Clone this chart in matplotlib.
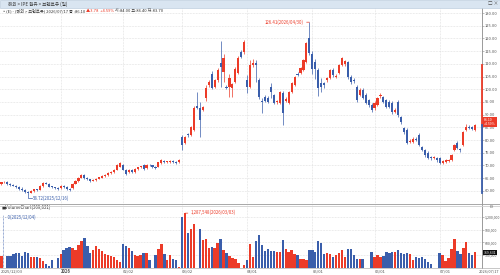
import matplotlib
matplotlib.use('Agg')
import matplotlib.pyplot as plt
import matplotlib.transforms as mtransforms
from matplotlib.patches import Rectangle
from matplotlib.lines import Line2D
import numpy as np
import pandas as pd

plt.rcParams['font.family'] = ['Noto Sans CJK KR', 'DejaVu Sans']

# ---------------- data ----------------
start_date = '2025-12-03'
end_date = '2026-07-17'
holidays = ['2025-12-25', '2026-01-01']

opens = [62.8, 63.3, 63.6, 62.6, 62.3, 61.9, 61.4, 60.9, 60.3, 59.6,
         59.3, 60.0, 60.6, 60.4, 61.8, 63.0, 62.8, 61.7, 61.3, 61.0,
         61.0, 62.0, 61.5, 60.8, 61.0, 62.8, 63.8, 65.2, 66.2, 65.0,
         64.5, 64.0, 64.2, 64.8, 65.2, 65.8, 66.3, 66.9, 67.5, 68.3,
         69.5, 70.2, 68.3, 67.5, 68.2, 67.4, 68.5, 69.2, 70.2, 69.0,
         70.2, 70.0, 69.5, 69.5, 71.0, 71.8, 71.3, 71.4, 71.7, 71.4,
         71.2, 81.2, 79.0, 82.2, 82.0, 84.0, 93.5, 92.6, 92.0, 96.5,
         101.6, 106.0, 100.9, 103.6, 110.3, 106.8, 101.0, 100.9, 100.5, 102.8,
         106.4, 114.6, 114.6, 103.6, 100.9, 109.6, 110.3, 103.5, 95.3, 97.0,
         96.5, 100.9, 97.7, 94.8, 94.6, 98.5, 95.5, 94.6, 98.9, 101.6,
         106.2, 106.4, 107.6, 110.7, 120.2, 113.8, 110.8, 107.6, 102.4, 102.3,
         103.6, 104.4, 107.6, 105.0, 106.4, 109.5, 110.0, 110.7, 104.8, 103.8,
         100.9, 97.7, 99.7, 97.7, 95.7, 93.8, 92.6, 93.8, 97.2, 96.9,
         95.7, 95.0, 94.6, 91.0, 95.0, 89.0, 84.7, 84.0, 79.2, 79.2,
         80.5, 82.0, 77.2, 76.0, 75.0, 73.3, 73.0, 73.0, 73.0, 71.0,
         71.5, 71.8, 72.0, 76.0, 79.0, 76.5, 78.0, 84.0, 85.2, 85.0,
         84.0]
highs = [63.6, 63.9, 63.8, 62.9, 62.7, 62.4, 61.8, 61.3, 60.6, 60.0,
         60.4, 60.9, 60.9, 62.1, 63.3, 63.4, 63.0, 62.0, 61.6, 61.4,
         62.3, 62.3, 61.8, 61.1, 63.0, 64.1, 65.5, 66.8, 66.5, 65.3,
         64.8, 64.5, 65.1, 65.6, 66.1, 66.7, 67.3, 67.9, 68.6, 70.4,
         71.4, 70.5, 68.6, 68.6, 68.5, 68.9, 69.5, 69.9, 70.6, 70.5,
         70.5, 70.3, 69.8, 71.5, 72.4, 72.1, 71.9, 72.1, 72.0, 71.7,
         72.6, 82.0, 81.5, 82.8, 85.5, 93.5, 99.0, 95.0, 93.5, 101.5,
         103.5, 107.0, 104.2, 108.5, 119.0, 114.0, 101.8, 106.0, 102.6, 108.6,
         113.0, 115.5, 119.5, 105.5, 111.5, 111.8, 111.5, 104.5, 96.5, 97.8,
         97.3, 102.5, 98.3, 95.8, 99.5, 99.2, 96.8, 99.3, 102.9, 105.3,
         106.8, 108.8, 112.0, 118.8, 126.41, 115.0, 112.0, 108.5, 104.5, 103.0,
         104.8, 108.0, 108.2, 106.0, 110.0, 112.8, 111.5, 111.3, 105.5, 104.5,
         101.5, 100.3, 100.5, 98.5, 96.3, 94.4, 95.2, 97.0, 98.5, 97.5,
         96.3, 95.6, 95.5, 92.6, 95.8, 89.6, 85.3, 84.6, 80.3, 81.0,
         81.0, 82.6, 77.8, 76.6, 75.5, 73.8, 73.8, 73.5, 73.5, 72.0,
         72.4, 72.6, 74.5, 78.5, 79.6, 77.0, 83.5, 86.5, 86.0, 85.6,
         86.4]
lows = [62.4, 63.0, 62.4, 61.9, 61.7, 61.0, 60.5, 59.9, 59.1, 58.72,
        59.0, 59.7, 59.9, 60.2, 61.6, 62.5, 61.3, 61.0, 60.8, 60.5,
        60.8, 61.2, 60.5, 59.8, 60.8, 62.5, 63.5, 64.9, 64.7, 64.2,
        63.6, 63.7, 63.9, 64.5, 64.9, 65.5, 66.0, 66.6, 67.2, 68.0,
        69.2, 68.0, 66.4, 67.2, 67.0, 67.1, 68.2, 68.9, 68.3, 68.7,
        69.7, 68.9, 68.5, 69.2, 70.7, 71.1, 71.0, 71.1, 71.0, 70.7,
        70.9, 76.0, 78.5, 81.3, 81.6, 83.5, 92.3, 81.0, 91.5, 95.5,
        101.0, 100.0, 100.3, 103.0, 101.0, 103.0, 100.2, 97.0, 97.0, 102.3,
        106.0, 112.2, 114.0, 98.5, 100.5, 108.8, 102.8, 96.0, 90.6, 94.8,
        94.5, 96.5, 94.0, 94.3, 94.2, 86.0, 95.0, 94.2, 98.5, 101.2,
        105.3, 106.0, 107.2, 110.3, 113.5, 106.0, 104.0, 97.5, 99.0, 100.5,
        103.0, 104.0, 105.0, 104.5, 106.0, 109.0, 109.3, 104.2, 102.0, 102.5,
        95.0, 97.2, 96.0, 94.0, 93.2, 91.2, 92.0, 93.3, 96.6, 94.5,
        92.5, 92.6, 90.4, 90.5, 89.2, 86.5, 82.5, 78.5, 78.7, 78.8,
        79.5, 77.5, 75.5, 73.5, 72.5, 72.3, 72.5, 71.5, 70.5, 70.6,
        71.0, 71.4, 71.6, 75.5, 76.6, 75.2, 77.5, 83.5, 84.3, 83.8,
        83.7]
closes = [63.3, 63.6, 62.6, 62.1, 61.9, 61.3, 60.8, 60.2, 59.4, 59.2,
          60.1, 60.6, 60.2, 61.8, 63.0, 62.8, 61.6, 61.3, 61.0, 60.8,
          62.0, 61.5, 60.8, 60.3, 62.8, 63.8, 65.2, 66.3, 65.0, 64.5,
          64.0, 64.2, 64.8, 65.3, 65.8, 66.4, 67.0, 67.5, 68.3, 70.0,
          71.0, 68.3, 66.8, 68.2, 67.4, 68.6, 69.2, 69.6, 68.6, 70.2,
          70.0, 69.2, 68.8, 71.2, 72.0, 71.4, 71.6, 71.8, 71.3, 71.0,
          72.3, 78.0, 81.0, 81.8, 85.0, 92.6, 92.8, 87.9, 93.0, 100.5,
          102.8, 100.5, 103.6, 107.6, 108.7, 112.3, 100.6, 104.4, 102.0, 108.0,
          112.3, 112.7, 118.6, 100.9, 109.5, 110.4, 109.5, 97.0, 95.0, 95.3,
          95.0, 98.9, 94.6, 95.2, 98.9, 90.6, 96.3, 98.9, 102.4, 104.8,
          105.8, 108.3, 111.5, 118.2, 114.2, 107.8, 108.0, 100.5, 100.8, 101.8,
          104.3, 107.6, 105.6, 105.4, 109.5, 112.3, 111.0, 104.8, 102.8, 103.2,
          95.7, 99.7, 96.5, 94.6, 93.8, 91.8, 94.6, 96.5, 97.8, 95.0,
          93.0, 93.2, 91.0, 92.0, 89.8, 87.0, 83.0, 79.0, 79.8, 80.5,
          80.0, 78.0, 76.0, 74.0, 73.0, 72.8, 73.3, 72.0, 71.0, 71.6,
          72.0, 72.2, 74.0, 78.0, 77.0, 76.0, 83.0, 85.0, 84.8, 84.3,
          86.1]
volumes = [279000, 0, 280000, 279000, 326000, 341000, 357000, 290000, 380000, 357000,
           264000, 250000, 270000, 240000, 160000, 93000, 47000, 186000, 10000, 230000,
           330000, 419000, 481000, 505000, 481000, 434000, 535000, 636000, 713000, 512000,
           341000, 419000, 512000, 457000, 403000, 340000, 302000, 279000, 248000, 186000,
           140000, 558000, 512000, 481000, 403000, 300000, 279000, 302000, 357000, 357000,
           186000, 5000, 300000, 457000, 558000, 340000, 186000, 302000, 202000, 186000,
           31000, 1190000, 1287548, 822000, 922000, 1040000, 3000, 922000, 650000, 690000,
           460000, 500000, 470000, 580000, 670000, 420000, 350000, 290000, 240000, 200000,
           120000, 10000, 60000, 190000, 558000, 264000, 635000, 767000, 535000, 403000,
           457000, 403000, 403000, 380000, 380000, 651000, 457000, 380000, 419000, 318000,
           302000, 202000, 202000, 186000, 419000, 419000, 380000, 643000, 589000, 326000,
           357000, 318000, 248000, 302000, 341000, 419000, 264000, 457000, 457000, 300000,
           200000, 202000, 202000, 3000, 3000, 380000, 264000, 302000, 248000, 279000,
           380000, 357000, 380000, 380000, 434000, 341000, 326000, 357000, 340000, 186000,
           264000, 225000, 264000, 202000, 147000, 93000, 3000, 3000, 341000, 302000,
           171000, 225000, 457000, 690000, 403000, 326000, 481000, 612000, 357000, 302000,
           369631]

price_ticks = [60, 65, 70, 75, 80, 85, 90, 95, 100, 105, 110, 115, 120, 125, 130]
volume_ticks = [300000, 600000, 900000, 1200000]

title_text = '해외 > IPE 원유 > 브렌트유 (일)'
info_main = '◦(E) - (해외 > 브렌트유) 2026/07/17 종 :86.10 '
info_change = '▲3.78  +4.59%'
info_rest = ' 시:84.00 고:86.40 저:83.70'
last_change_pct = '+4.59%'

# ---------------- styling ----------------
UP = '#ec3b28'
DOWN = '#3a5eab'
GRID = '#d9d9d9'
TXT = '#555555'
W, H = 500, 275

dates = pd.bdate_range(start_date, end_date).drop(pd.to_datetime(holidays))
n = len(dates)
idx = np.arange(n)
o = np.array(opens); h = np.array(highs); l = np.array(lows); c = np.array(closes)
v = np.array(volumes)
up = c >= o
colors = np.where(up, UP, DOWN)

# month starts
month_pos = [i for i in range(1, n) if dates[i].month != dates[i - 1].month]
month_labels = [dates[i].strftime('%Y') if dates[i].month == 1 else dates[i].strftime('%m/%d')
                for i in month_pos]

fig = plt.figure(figsize=(W / 100, H / 100), dpi=100)
fig.patch.set_facecolor('white')

def fy(py):
    return 1 - py / H

right_px = 482
ax = fig.add_axes([0, fy(204), right_px / W, (204 - 8) / H])
axv = fig.add_axes([0, fy(268), right_px / W, (268 - 205) / H])

xlim = (-0.5, n + 1.3)
for a, lsize in ((ax, 2.9), (axv, 2.6)):
    a.set_xlim(*xlim)
    a.set_facecolor('white')
    for s in ('left', 'top', 'bottom'):
        a.spines[s].set_visible(False)
    a.spines['right'].set_color('#8a8a8a')
    a.spines['right'].set_linewidth(0.6)
    a.yaxis.tick_right()
    a.tick_params(axis='y', length=1.2, width=0.4, colors='#8a8a8a', labelsize=lsize,
                  labelcolor=TXT, pad=0.6)
    a.set_xticks(month_pos)
    a.tick_params(axis='x', length=0, labelbottom=False)
    a.grid(True, axis='both', color=GRID, linestyle=(0, (1, 1.2)), linewidth=0.5)
    a.set_axisbelow(True)

# ---- price pane ----
ax.set_ylim(54.8, 132.0)
ax.set_yticks(price_ticks)
ax.set_yticklabels([f'{t:.2f}' for t in price_ticks])
ax.vlines(idx, l, h, colors=colors, linewidth=0.5, zorder=2)
body_h = np.maximum(np.abs(c - o), 0.25)
ax.bar(idx, body_h, bottom=np.minimum(o, c), width=0.72, color=colors, linewidth=0, zorder=3)

# right-spine colored range
tr_p = mtransforms.blended_transform_factory(ax.transAxes, ax.transData)
ax.plot([1, 1], [c[-1], 109.5], color=UP, lw=1.3, transform=tr_p, clip_on=False, zorder=5)
ax.plot([1, 1], [59.0, c[-1]], color=DOWN, lw=1.3, transform=tr_p, clip_on=False, zorder=5)

# current price box
ax.text(1.004, c[-1] + 1.0, f'{c[-1]:.2f}\n{last_change_pct}', transform=tr_p, ha='left',
        va='center', fontsize=2.5, color='white', linespacing=1.0,
        bbox=dict(boxstyle='square,pad=0.25', fc=UP, ec='none'), clip_on=False, zorder=6)

# max / min annotations
imax = int(np.argmax(h))
ax.annotate(f'{h[imax]:.2f}({dates[imax].strftime("%Y/%m/%d")})', xy=(imax, h[imax]),
            xytext=(-4, 0), textcoords='offset points', ha='right', va='center',
            fontsize=3.1, color=UP,
            arrowprops=dict(arrowstyle='-', color=UP, lw=0.5, shrinkA=0, shrinkB=0))
imin = int(np.argmin(l))
y_lab = l[imin] - 1.5
ax.plot([imin, imin, imin + 1.3], [l[imin], y_lab, y_lab], color=DOWN, lw=0.5, zorder=4)
ax.text(imin + 1.5, y_lab, f'{l[imin]:.2f}({dates[imin].strftime("%Y/%m/%d")})',
        ha='left', va='center', fontsize=3.1, color=DOWN)

# ---- volume pane ----
axv.set_ylim(0, 1.48e6)
axv.set_yticks(volume_ticks)
axv.set_yticklabels([f'{t:,}' for t in volume_ticks])
axv.bar(idx, v, width=0.8, color=colors, linewidth=0, zorder=3)

tr_v = mtransforms.blended_transform_factory(axv.transAxes, axv.transData)
axv.text(1.004, v[-1], f'{v[-1]:,}', transform=tr_v, ha='left', va='center', fontsize=2.5,
         color='white', bbox=dict(boxstyle='square,pad=0.2', fc='#111111', ec='none'),
         clip_on=False, zorder=6)

ivmax = int(np.argmax(v))
axv.annotate(f'{v[ivmax]:,}({dates[ivmax].strftime("%Y/%m/%d")})', xy=(ivmax, v[ivmax]),
             xytext=(4, 0.5), textcoords='offset points', ha='left', va='center',
             fontsize=3.1, color=UP,
             arrowprops=dict(arrowstyle='-', color=UP, lw=0.5, shrinkA=0, shrinkB=0))
ivmin = int(np.argmin(v))
tr_vx = mtransforms.blended_transform_factory(axv.transData, axv.transAxes)
axv.plot([ivmin - 0.5, ivmin - 0.5], [0, 0.84], color=DOWN, lw=0.5, linestyle=(0, (1, 1)),
         transform=tr_vx, zorder=4)
axv.text(ivmin + 0.2, 0.80, f'- {v[ivmin]:,}({dates[ivmin].strftime("%Y/%m/%d")})',
         transform=tr_vx, ha='left', va='center', fontsize=3.1, color=DOWN)

axv.text(0.004, 0.965, f'■VolumeChart({v[-1]:,})', transform=axv.transAxes, ha='left',
         va='center', fontsize=3.1, color='#333333')

# x labels
for p, lab in zip(month_pos, month_labels):
    fig.text((1.5 + p * 2.96) / W, fy(271.5), lab, ha='left', va='center', fontsize=3.0,
             color=TXT, fontweight='bold' if len(lab) == 4 else 'normal')
fig.text(1 / W, fy(271.5), dates[0].strftime('%Y/%m/%d'), ha='left', va='center',
         fontsize=3.0, color=TXT)
fig.text(499 / W, fy(271.5), dates[-1].strftime('%Y/%m/%d'), ha='right', va='center',
         fontsize=2.8, color=TXT)

# separator between panes
fig.add_artist(Line2D([0, 1], [fy(204.3), fy(204.3)], color='#9a9a9a', lw=0.6))
fig.add_artist(Line2D([0, 1], [fy(205.6), fy(205.6)], color='#cfcfcf', lw=0.6))
fig.add_artist(Line2D([0, 1], [fy(268.2), fy(268.2)], color='#b0b0b0', lw=0.5))

# title bar
fig.add_artist(Rectangle((0, fy(7.5)), 1, 7.5 / H, transform=fig.transFigure,
                         facecolor='#d9e5f1', edgecolor='#b5c7da', lw=0.4))
fig.text(8 / W, fy(3.8), title_text, ha='left', va='center', fontsize=3.3, color='#333333')
fig.text(488 / W, fy(3.8), '□ ×', ha='left', va='center', fontsize=3.3, color='#555555')
fig.text(490 / W, fy(207.5), 'EX', ha='left', va='center', fontsize=2.6, color='#666666')

# info line
t1 = fig.text(2 / W, fy(10.8), info_main, ha='left', va='center', fontsize=3.0, color='#333333')
fig.canvas.draw()
r = fig.canvas.get_renderer()
bb = t1.get_window_extent(r)
t2 = fig.text(bb.x1 / W, fy(10.8), info_change, ha='left', va='center', fontsize=3.0, color=UP)
bb2 = t2.get_window_extent(r)
fig.text(bb2.x1 / W, fy(10.8), info_rest, ha='left', va='center', fontsize=3.0, color='#333333')

fig.savefig('out.png', dpi=100, facecolor='white')
